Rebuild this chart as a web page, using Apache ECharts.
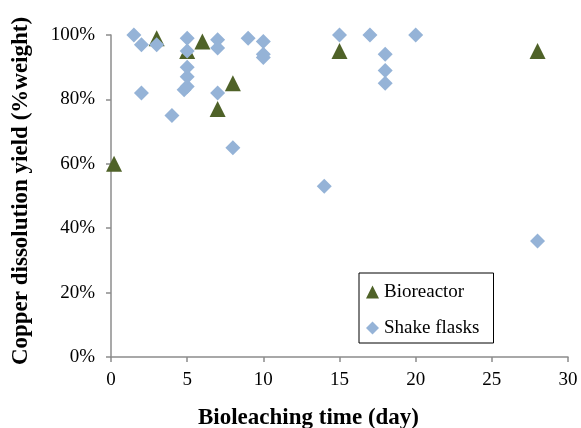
<!DOCTYPE html>
<html>
<head>
<meta charset="utf-8">
<script src="https://cdn.jsdelivr.net/npm/echarts@6/dist/echarts.min.js"></script>
<style>
  html, body { margin: 0; padding: 0; background: #fff; }
  #main { width: 581px; height: 428px; }
</style>
</head>
<body>
<div id="main"></div>
<script>
// 生物反应器 (day, % yield)
var bioreactorDays = [0.2, 3, 5, 6, 7, 8, 15, 28];
var bioreactorYield = [60, 99, 95, 98, 77, 85, 95, 95];

// 摇瓶 (day, % yield)
var flaskDays = [1.5, 2, 2, 3, 4, 4.8, 5, 5, 5, 5, 5, 7, 7, 7, 8, 9, 10, 10, 10, 14, 15, 17, 18, 18, 18, 20, 28];
var flaskYield = [100, 97, 82, 97, 75, 83, 84, 87, 90, 95, 99, 98.5, 96, 82, 65, 99, 98, 94, 93, 53, 100, 100, 94, 89, 85, 100, 36];

var xTicks = [0, 5, 10, 15, 20, 25, 30];
var yTicks = [0, 20, 40, 60, 80, 100];

function pairs(xs, ys) {
    var out = [];
    for (var i = 0; i < xs.length; i++) {
        out.push([xs[i], ys[i]]);
    }
    return out;
}

var serif = 'Liberation Serif';
var axisGray = '#8c8c8c';

var oChart = echarts.init(document.getElementById('main'));
var chartopt = {
    animation: false,
    textStyle: { fontFamily: serif },
    grid: {
        left: 111,
        right: 13,
        top: 35,
        bottom: 71,
        containLabel: false,
        outerBoundsMode: 'none'
    },
    legend: {
        orient: 'vertical',
        left: 359,
        top: 273,
        padding: [8, 14, 4, 7],
        itemGap: 14,
        itemWidth: 13,
        itemHeight: 13,
        borderColor: '#000',
        borderWidth: 1,
        backgroundColor: '#fff',
        textStyle: { fontFamily: serif, fontSize: 19, color: '#000', lineHeight: 22 },
        data: [
            { name: 'Bioreactor', icon: 'triangle' },
            { name: 'Shake flasks', icon: 'diamond' }
        ]
    },
    xAxis: {
        type: 'value',
        min: xTicks[0],
        max: xTicks[xTicks.length - 1],
        interval: 5,
        name: 'Bioleaching time (day)',
        nameLocation: 'middle',
        nameGap: 50,
        nameTextStyle: { fontFamily: serif, fontSize: 23, fontWeight: 'bold', color: '#000', padding: [0, 62, 0, 0] },
        splitLine: { show: false },
        axisLine: { onZero: false, lineStyle: { color: axisGray, width: 1.5 } },
        axisTick: { show: true, length: 5, lineStyle: { color: axisGray, width: 1.5 } },
        axisLabel: { fontFamily: serif, fontSize: 19, color: '#000', margin: 14 }
    },
    yAxis: {
        type: 'value',
        min: yTicks[0],
        max: yTicks[yTicks.length - 1],
        interval: 20,
        name: 'Copper dissolution yield (%weight)',
        nameLocation: 'middle',
        nameGap: 78,
        nameTextStyle: { fontFamily: serif, fontSize: 23, fontWeight: 'bold', color: '#000', padding: [0, 0, 0, 10] },
        splitLine: { show: false },
        axisLine: { show: true, lineStyle: { color: axisGray, width: 1.5 } },
        axisTick: { show: true, length: 5, lineStyle: { color: axisGray, width: 1.5 } },
        axisLabel: { fontFamily: serif, fontSize: 19, color: '#000', margin: 16, formatter: '{value}%' }
    },
    series: [{
        name: 'Bioreactor',
        type: 'scatter',
        symbol: 'triangle',
        symbolSize: 16,
        itemStyle: { color: '#4f6228', opacity: 1 },
        data: pairs(bioreactorDays, bioreactorYield)
    }, {
        name: 'Shake flasks',
        type: 'scatter',
        symbol: 'diamond',
        symbolSize: 15,
        itemStyle: { color: '#95b3d7', opacity: 1 },
        data: pairs(flaskDays, flaskYield)
    }]
};
oChart.setOption(chartopt);
</script>
</body>
</html>
